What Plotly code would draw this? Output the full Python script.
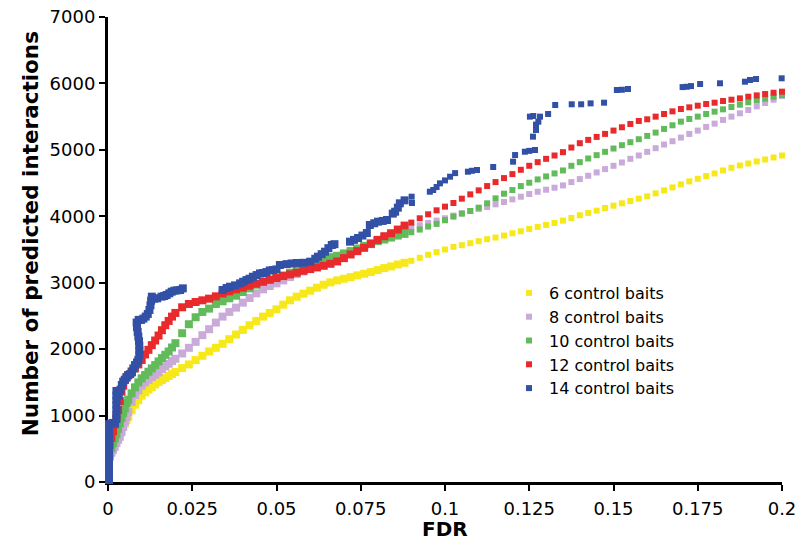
import plotly.graph_objects as go

# FDR grid shared by the four dense series
fdr_grid = [
    0.0005, 0.001, 0.0015, 0.002, 0.0025, 0.003, 0.0035, 0.004, 0.0045, 0.005, 0.0055, 0.006,
    0.007, 0.008, 0.009, 0.010, 0.011, 0.012, 0.013, 0.014, 0.015, 0.016, 0.017, 0.018, 0.019,
    0.020, 0.022, 0.024, 0.026, 0.028, 0.030, 0.032, 0.034, 0.036, 0.038, 0.040, 0.042,
    0.044, 0.046, 0.048, 0.050, 0.052, 0.054, 0.056, 0.058, 0.060, 0.062, 0.064, 0.066,
    0.068, 0.070, 0.072, 0.074, 0.076, 0.078, 0.080, 0.082, 0.084, 0.086, 0.088, 0.090,
    0.0925, 0.095, 0.0975, 0.100, 0.1025, 0.105, 0.1075, 0.110, 0.1125, 0.115, 0.1175,
    0.120, 0.1225, 0.125, 0.1275, 0.130, 0.1325, 0.135, 0.1375, 0.140, 0.1425, 0.145,
    0.1475, 0.150, 0.1525, 0.155, 0.1575, 0.160, 0.1625, 0.165, 0.1675, 0.170, 0.1725,
    0.175, 0.1775, 0.180, 0.1825, 0.185, 0.1875, 0.190, 0.1925, 0.195, 0.1975, 0.200,
]

baits_6 = [
    380, 450, 520, 590, 665, 720, 760, 795, 830, 880, 930, 980,
    1080, 1165, 1230, 1300, 1350, 1390, 1430, 1470, 1505, 1535, 1565, 1595, 1625,
    1655, 1715, 1770, 1835, 1900, 1965, 2020, 2080, 2150, 2220, 2290, 2360,
    2425, 2490, 2545, 2600, 2670, 2735, 2790, 2835, 2880, 2925, 2970, 3005,
    3035, 3060, 3085, 3110, 3135, 3160, 3190, 3220, 3245, 3275, 3300, 3330,
    3375, 3420, 3460, 3500, 3540, 3565, 3595, 3625, 3655, 3680, 3710,
    3745, 3775, 3810, 3840, 3870, 3900, 3935, 3975, 4015, 4050, 4085,
    4125, 4160, 4195, 4230, 4265, 4300, 4345, 4390, 4435, 4480, 4525,
    4565, 4605, 4645, 4690, 4730, 4765, 4795, 4825, 4855, 4885, 4915,
]

baits_8 = [
    380, 440, 485, 530, 585, 635, 680, 750, 830, 905, 980, 1055,
    1205, 1310, 1380, 1450, 1500, 1540, 1580, 1615, 1650, 1700, 1740, 1780, 1820,
    1855, 1935, 2020, 2110, 2210, 2300, 2400, 2490, 2560, 2625, 2700, 2770,
    2840, 2900, 2950, 2990, 3035, 3085, 3130, 3170, 3220, 3270, 3315, 3360,
    3400, 3435, 3470, 3505, 3540, 3580, 3630, 3680, 3725, 3775, 3810, 3835,
    3865, 3900, 3935, 3970, 4010, 4045, 4080, 4110, 4140, 4180, 4215,
    4255, 4295, 4335, 4370, 4400, 4430, 4465, 4515, 4560, 4610, 4660,
    4710, 4760, 4810, 4865, 4915, 4970, 5025, 5080, 5130, 5185, 5240,
    5290, 5345, 5395, 5450, 5500, 5550, 5600, 5655, 5705, 5755, 5810,
]

baits_10 = [
    400, 510, 590, 655, 720, 800, 885, 965, 1040, 1110, 1185, 1240,
    1335, 1425, 1500, 1560, 1610, 1660, 1710, 1760, 1815, 1865, 1915, 1965, 2025,
    2090, 2240, 2375, 2480, 2560, 2610, 2680, 2720, 2765, 2805, 2860, 2915,
    2970, 3015, 3045, 3075, 3110, 3150, 3190, 3230, 3270, 3315, 3355, 3385,
    3405, 3440, 3475, 3515, 3555, 3595, 3625, 3650, 3680, 3710, 3735, 3760,
    3800, 3845, 3885, 3940, 3995, 4040, 4080, 4130, 4195, 4270, 4340,
    4395, 4455, 4505, 4555, 4600, 4645, 4690, 4760, 4815, 4870, 4920,
    4970, 5020, 5070, 5115, 5160, 5210, 5260, 5315, 5370, 5425, 5465,
    5500, 5540, 5575, 5610, 5645, 5680, 5715, 5745, 5770, 5800, 5826,
]

baits_12 = [
    560, 665, 765, 870, 975, 1084, 1220, 1360, 1450, 1535, 1570, 1605,
    1665, 1710, 1770, 1837, 1920, 1990, 2060, 2130, 2205, 2285, 2360, 2425, 2490,
    2545, 2630, 2680, 2710, 2735, 2760, 2795, 2835, 2870, 2900, 2925, 2955,
    2985, 3015, 3045, 3070, 3100, 3125, 3150, 3180, 3205, 3230, 3255, 3285,
    3320, 3370, 3425, 3475, 3525, 3585, 3645, 3700, 3745, 3800, 3860, 3905,
    3970, 4030, 4090, 4145, 4200, 4265, 4330, 4390, 4455, 4515, 4575,
    4635, 4700, 4760, 4815, 4865, 4915, 4965, 5035, 5100, 5150, 5195,
    5240, 5290, 5340, 5390, 5435, 5460, 5500, 5540, 5580, 5615, 5640,
    5665, 5690, 5710, 5735, 5755, 5775, 5800, 5820, 5840, 5860, 5876,
]

# 14 control baits: sparse, irregular points
baits_14_fdr = [
    0.0003, 0.0003, 0.0003, 0.0003, 0.0003, 0.0003, 0.0003, 0.0003, 0.0003, 0.0003, 0.0003, 0.0003, 0.0003,
    0.0009, 0.0015, 0.0021,
    0.0025, 0.0025, 0.0025, 0.0025, 0.0025, 0.0025, 0.0025,
    0.0032, 0.0037, 0.0041, 0.0045, 0.0050, 0.0055, 0.0060, 0.0066, 0.0071, 0.0075, 0.0080, 0.0086,
    0.0090, 0.0093, 0.0093, 0.0093, 0.0092, 0.0090, 0.0088, 0.0086, 0.0085, 0.0091, 0.0098, 0.0105,
    0.0112, 0.0118, 0.0123, 0.0126, 0.0128, 0.0130, 0.0137, 0.0146, 0.0159, 0.0167, 0.0174, 0.0182,
    0.0189, 0.0197, 0.0205, 0.0214, 0.0222,
    0.0340, 0.0352, 0.0362, 0.0377, 0.0392, 0.0401, 0.0411, 0.0420, 0.0430, 0.0441, 0.0451, 0.0460,
    0.0470, 0.0480, 0.0490, 0.0500, 0.0510, 0.0530, 0.0545, 0.0560, 0.0580, 0.0600, 0.0615, 0.0623,
    0.0634, 0.0644, 0.0654, 0.0664, 0.0672, 0.0718, 0.0730, 0.0742, 0.0755, 0.0768, 0.0777, 0.0790,
    0.0801, 0.0815, 0.0828, 0.0845, 0.0852, 0.0860, 0.0866, 0.0880, 0.0901, 0.0902, 0.0955, 0.0965,
    0.0975, 0.0985, 0.1000, 0.1015, 0.1030, 0.1068, 0.1080, 0.1095, 0.1143, 0.1202, 0.1208, 0.1237,
    0.1250, 0.1267, 0.1261, 0.1270, 0.1277, 0.1270, 0.1252, 0.1262, 0.1282, 0.1306, 0.1327, 0.1376,
    0.1404, 0.1432, 0.1472, 0.1510, 0.1525, 0.1543, 0.1705, 0.1717, 0.1730, 0.1757, 0.1816, 0.1890,
    0.1905, 0.1923, 0.1999,
]
baits_14 = [
    30, 100, 170, 240, 310, 380, 450, 520, 590, 660, 730, 800, 870,
    880, 890, 880,
    950, 1020, 1090, 1160, 1230, 1300, 1370,
    1300, 1390, 1460, 1510, 1540, 1580, 1610, 1625, 1650, 1710, 1760, 1800,
    1840, 1910, 1980, 2050, 2120, 2190, 2260, 2330, 2400, 2440, 2440, 2460,
    2490, 2530, 2590, 2660, 2730, 2790, 2760, 2765, 2790, 2800, 2815, 2840,
    2865, 2880, 2885, 2890, 2915,
    2890, 2920, 2940, 2960, 2990, 3015, 3040, 3060, 3090, 3115, 3140, 3146,
    3160, 3185, 3191, 3200, 3267, 3280, 3290, 3297, 3300, 3317, 3360, 3392,
    3430, 3467, 3520, 3568, 3580, 3618, 3645, 3673, 3710, 3748, 3869, 3895,
    3919, 3930, 3944, 4040, 4069, 4130, 4195, 4240, 4295, 4200, 4370, 4396,
    4440, 4496, 4540, 4596, 4650, 4671, 4685, 4697, 4742, 4822, 4922, 4972,
    4985, 4998, 5199, 5299, 5424, 5380, 5500, 5510, 5500, 5540, 5675, 5686,
    5686, 5700, 5710, 5901, 5905, 5916, 5945, 5950, 5960, 5991, 6002, 6026,
    6052, 6067, 6077,
]

series_names = ["6 control baits", "8 control baits", "10 control baits",
                "12 control baits", "14 control baits"]
series_colors = ["#f7e81a", "#c9aad8", "#62bb5a", "#e82a2c", "#3150a6"]

x_tick_vals = [0, 0.025, 0.05, 0.075, 0.1, 0.125, 0.15, 0.175, 0.2]
x_tick_text = ["0", "0.025", "0.05", "0.075", "0.1", "0.125", "0.15", "0.175", "0.2"]
y_tick_vals = [0, 1000, 2000, 3000, 4000, 5000, 6000, 7000]

for ys in (baits_6, baits_8, baits_10, baits_12):
    assert len(ys) == len(fdr_grid)
assert len(baits_14) == len(baits_14_fdr)

DENSE_LIMIT = 0.09  # below this FDR the points overlap into a solid band

fig = go.Figure()
all_series = [
    (fdr_grid, baits_6), (fdr_grid, baits_8), (fdr_grid, baits_10),
    (fdr_grid, baits_12), (baits_14_fdr, baits_14),
]
for (xs, ys), name, color in zip(all_series, series_names, series_colors):
    lo = [(x, y) for x, y in zip(xs, ys) if x < DENSE_LIMIT]
    hi = [(x, y) for x, y in zip(xs, ys) if x >= DENSE_LIMIT]
    for part, size, in_legend in ((hi, 6, True), (lo, 8, False)):
        fig.add_trace(go.Scatter(
            x=[p[0] for p in part], y=[p[1] for p in part],
            name=name, legendgroup=name, showlegend=in_legend,
            mode="markers", cliponaxis=False,
            marker=dict(symbol="square", size=size, color=color, opacity=1,
                        line=dict(width=0)),
        ))

font_family = "DejaVu Sans, Verdana, sans-serif"
fig.update_layout(
    width=801, height=545,
    margin=dict(l=108, r=19, t=17, b=63, autoexpand=False),
    paper_bgcolor="white", plot_bgcolor="white",
    font=dict(family=font_family, color="black", size=18),
    showlegend=True,
    legend=dict(
        x=0.595, y=0.443, xanchor="left", yanchor="top",
        font=dict(size=16, color="black"), bgcolor="rgba(0,0,0,0)",
        itemwidth=30, tracegroupgap=0,
    ),
    xaxis=dict(
        range=[0, 0.2], tickvals=x_tick_vals, ticktext=x_tick_text, automargin=False,
        showgrid=False, zeroline=False, showline=True, linecolor="black", linewidth=3,
        ticks="outside", ticklen=6, tickwidth=2, tickcolor="black",
        tickfont=dict(size=18), ticklabelstandoff=2, layer="below traces",
    ),
    yaxis=dict(
        range=[0, 7000], tickvals=y_tick_vals, automargin=False,
        showgrid=False, zeroline=False, showline=True, linecolor="black", linewidth=3,
        ticks="outside", ticklen=6, tickwidth=2, tickcolor="black",
        tickfont=dict(size=18), layer="below traces",
    ),
    annotations=[
        dict(
            text="<b>Number of predicted interactions</b>", textangle=-90,
            xref="paper", yref="paper", x=-0.1157, y=0.533,
            xanchor="center", yanchor="middle", showarrow=False,
            font=dict(size=21.5, color="black"),
        ),
        dict(
            text="<b>FDR</b>",
            xref="paper", yref="paper", x=0.5, y=-0.101,
            xanchor="center", yanchor="middle", showarrow=False,
            font=dict(size=20, color="black"),
        ),
    ],
)

fig.write_html("out.html")
